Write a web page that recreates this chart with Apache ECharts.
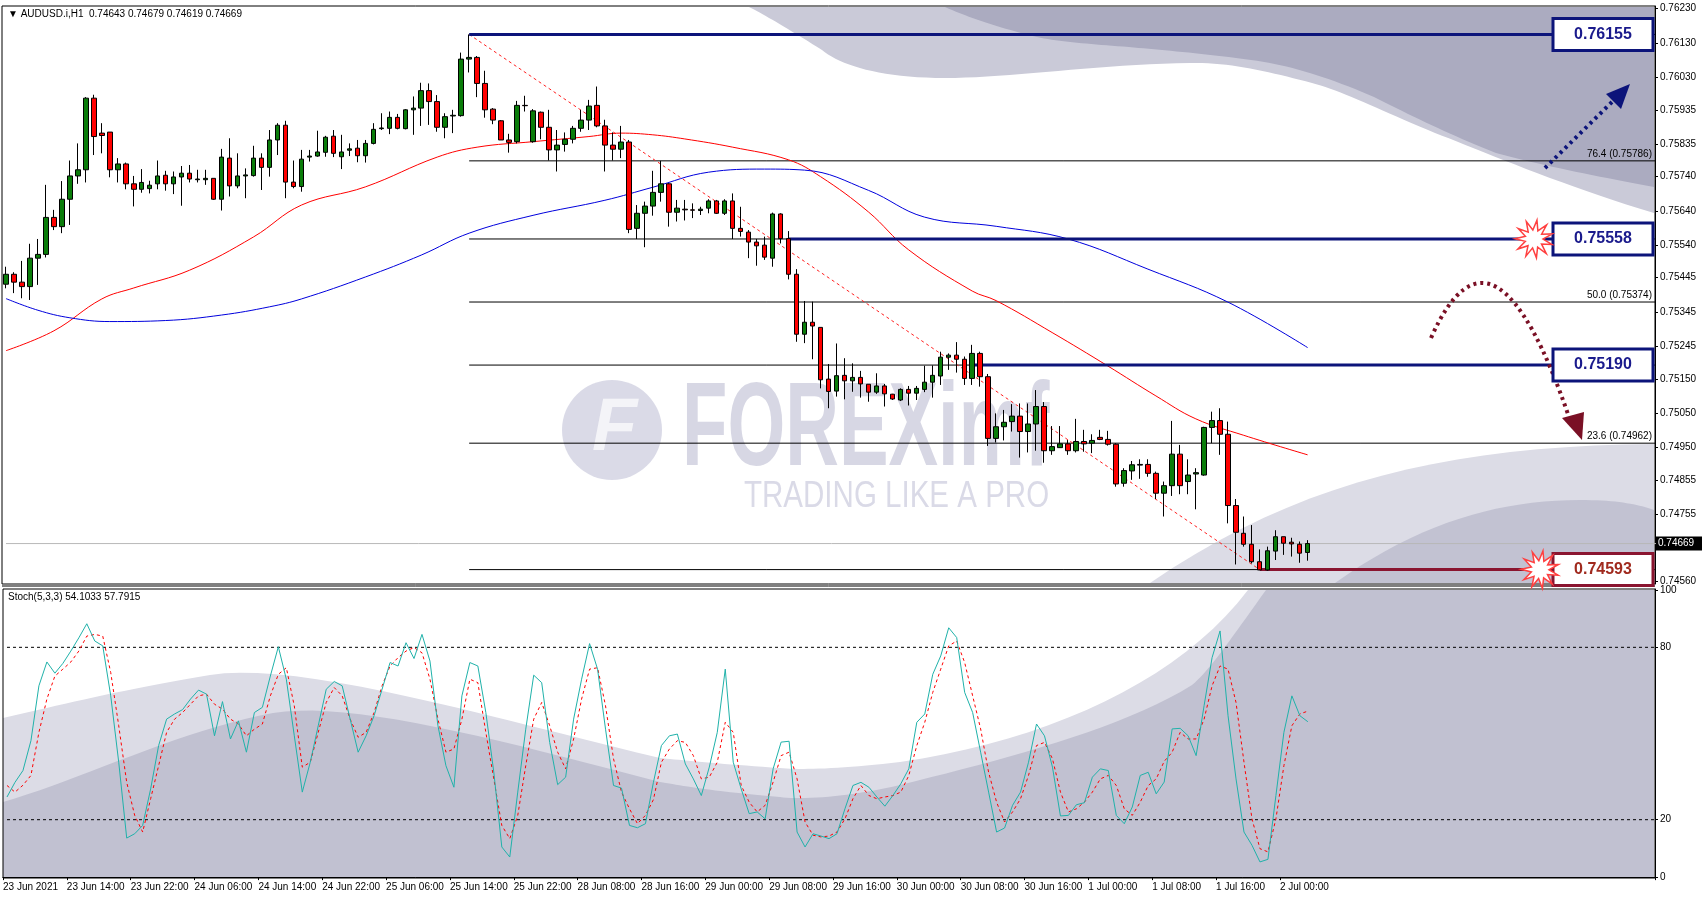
<!DOCTYPE html>
<html>
<head>
<meta charset="utf-8">
<script src="https://cdn.jsdelivr.net/npm/echarts@6/dist/echarts.min.js"></script>
<style>
  html, body { margin: 0; padding: 0; background: #fff; }
  #chart { width: 1702px; height: 900px; }
</style>
</head>
<body>
<div id="chart"></div>
<script>
// AUDUSD.i H1 candles, 23 Jun 2021 06:00 .. 2 Jul 2021 03:00
var opens = [0.75426,0.75455,0.75432,0.75419,0.75502,0.75513,0.75621,0.75594,0.75674,0.75742,
0.75760,0.75969,0.75867,0.75870,0.75760,0.75777,0.75719,0.75703,0.75705,0.75719,
0.75744,0.75719,0.75739,0.75750,0.75731,0.75731,0.75735,0.75674,0.75794,0.75713,
0.75742,0.75743,0.75794,0.75767,0.75847,0.75890,0.75724,0.75711,0.75797,0.75800,
0.75811,0.75858,0.75798,0.75817,0.75823,0.75801,0.75837,0.75880,0.75881,0.75913,
0.75880,0.75935,0.75940,0.75991,0.75959,0.75884,0.75917,0.75918,0.76083,0.76088,
0.76012,0.75937,0.75903,0.75847,0.75842,0.75948,0.75842,0.75928,0.75884,0.75818,
0.75834,0.75849,0.75881,0.75905,0.75948,0.75888,0.75832,0.75820,0.75841,0.75589,
0.75633,0.75654,0.75694,0.75719,0.75636,0.75645,0.75643,0.75641,0.75648,0.75669,
0.75633,0.75669,0.75589,0.75578,0.75549,0.75540,0.75502,0.75631,0.75559,0.75455,
0.75280,0.75315,0.75300,0.75149,0.75114,0.75160,0.75144,0.75154,0.75134,0.75111,
0.75129,0.75105,0.75088,0.75119,0.75108,0.75119,0.75140,0.75158,0.75213,0.75219,
0.75207,0.75151,0.75224,0.75156,0.74976,0.75010,0.75025,0.75041,0.74996,0.75018,
0.75069,0.74940,0.74949,0.74960,0.74940,0.74967,0.74962,0.74979,0.74973,0.74959,
0.74845,0.74881,0.74898,0.74900,0.74874,0.74816,0.74838,0.74930,0.74850,0.74872,
0.74869,0.75008,0.75028,0.74988,0.74780,0.74699,0.74667,0.74616,0.74592,0.74647,
0.74689,0.74673,0.74667,0.74643];
var closes = [0.75455,0.75432,0.75419,0.75502,0.75513,0.75621,0.75594,0.75674,0.75742,0.75760,
0.75969,0.75857,0.75860,0.75760,0.75777,0.75719,0.75703,0.75723,0.75715,0.75742,
0.75719,0.75739,0.75750,0.75733,0.75733,0.75735,0.75674,0.75797,0.75713,0.75742,
0.75745,0.75794,0.75767,0.75847,0.75890,0.75724,0.75711,0.75791,0.75800,0.75812,
0.75855,0.75808,0.75812,0.75821,0.75801,0.75837,0.75878,0.75882,0.75913,0.75881,
0.75935,0.75940,0.75991,0.75959,0.75884,0.75915,0.75919,0.76083,0.76088,0.76012,
0.75935,0.75905,0.75847,0.75840,0.75948,0.75947,0.75932,0.75884,0.75818,0.75832,
0.75849,0.75881,0.75905,0.75946,0.75888,0.75832,0.75820,0.75841,0.75586,0.75633,
0.75654,0.75694,0.75719,0.75636,0.75648,0.75643,0.75642,0.75645,0.75669,0.75633,
0.75669,0.75589,0.75580,0.75549,0.75538,0.75505,0.75631,0.75559,0.75455,0.75280,
0.75315,0.75304,0.75147,0.75113,0.75159,0.75144,0.75154,0.75135,0.75111,0.75129,
0.75106,0.75091,0.75119,0.75108,0.75122,0.75140,0.75160,0.75213,0.75219,0.75207,
0.75151,0.75224,0.75156,0.74976,0.75010,0.75023,0.75041,0.74996,0.75018,0.75069,
0.74940,0.74952,0.74960,0.74940,0.74967,0.74960,0.74970,0.74973,0.74959,0.74843,
0.74882,0.74899,0.74900,0.74874,0.74816,0.74838,0.74930,0.74838,0.74869,0.74876,
0.75008,0.75028,0.74988,0.74780,0.74702,0.74667,0.74616,0.74592,0.74648,0.74689,
0.74670,0.74668,0.74641,0.74669];
var lows = [0.75414,0.75400,0.75385,0.75380,0.75424,0.75504,0.75584,0.75575,0.75599,0.75719,
0.75723,0.75803,0.75808,0.75738,0.75723,0.75703,0.75653,0.75693,0.75691,0.75703,
0.75699,0.75689,0.75655,0.75723,0.75723,0.75716,0.75672,0.75641,0.75682,0.75706,
0.75677,0.75740,0.75701,0.75740,0.75803,0.75677,0.75706,0.75696,0.75784,0.75798,
0.75798,0.75797,0.75762,0.75800,0.75782,0.75781,0.75834,0.75876,0.75864,0.75878,
0.75878,0.75862,0.75888,0.75891,0.75871,0.75852,0.75867,0.75915,0.76044,0.75972,
0.75912,0.75893,0.75847,0.75810,0.75837,0.75930,0.75839,0.75849,0.75787,0.75755,
0.75813,0.75837,0.75871,0.75876,0.75884,0.75755,0.75787,0.75794,0.75575,0.75558,
0.75534,0.75626,0.75667,0.75594,0.75609,0.75612,0.75619,0.75628,0.75633,0.75631,
0.75628,0.75558,0.75565,0.75502,0.75480,0.75497,0.75477,0.75545,0.75440,0.75258,
0.75254,0.75207,0.75122,0.75064,0.75098,0.75090,0.75112,0.75095,0.75083,0.75106,
0.75069,0.75088,0.75085,0.75072,0.75088,0.75111,0.75095,0.75132,0.75176,0.75168,
0.75132,0.75132,0.75127,0.74954,0.74964,0.74970,0.74996,0.74920,0.74935,0.74940,
0.74905,0.74928,0.74949,0.74928,0.74935,0.74937,0.74933,0.74971,0.74955,0.74835,
0.74835,0.74855,0.74858,0.74864,0.74799,0.74748,0.74808,0.74813,0.74813,0.74769,
0.74867,0.74962,0.74928,0.74728,0.74608,0.74660,0.74611,0.74593,0.74590,0.74621,
0.74636,0.74631,0.74613,0.74619];
var highs = [0.75477,0.75461,0.75494,0.75544,0.75558,0.75716,0.75643,0.75727,0.75787,0.75837,
0.75972,0.75979,0.75896,0.75870,0.75794,0.75781,0.75742,0.75762,0.75728,0.75787,
0.75757,0.75755,0.75771,0.75774,0.75760,0.75760,0.75735,0.75821,0.75852,0.75808,
0.75764,0.75830,0.75808,0.75876,0.75896,0.75903,0.75787,0.75818,0.75818,0.75874,
0.75859,0.75876,0.75862,0.75837,0.75847,0.75847,0.75896,0.75925,0.75930,0.75923,
0.75937,0.75974,0.76014,0.76012,0.75978,0.75925,0.75935,0.76102,0.76155,0.76092,
0.76049,0.75940,0.75905,0.75865,0.75961,0.75976,0.75937,0.75930,0.75935,0.75876,
0.75869,0.75888,0.75935,0.75964,0.76003,0.75906,0.75869,0.75888,0.75847,0.75657,
0.75667,0.75757,0.75786,0.75721,0.75672,0.75672,0.75662,0.75652,0.75674,0.75672,
0.75674,0.75691,0.75652,0.75584,0.75558,0.75565,0.75635,0.75633,0.75581,0.75470,
0.75377,0.75375,0.75300,0.75193,0.75253,0.75210,0.75195,0.75173,0.75134,0.75166,
0.75135,0.75106,0.75122,0.75129,0.75129,0.75188,0.75189,0.75229,0.75224,0.75257,
0.75215,0.75249,0.75229,0.75164,0.75049,0.75059,0.75076,0.75078,0.75078,0.75117,
0.75082,0.75012,0.75012,0.74971,0.75033,0.75001,0.74988,0.75001,0.74998,0.74962,
0.74889,0.74910,0.74915,0.74915,0.74879,0.74850,0.75027,0.74957,0.74915,0.74889,
0.75010,0.75054,0.75064,0.75025,0.74799,0.74748,0.74723,0.74652,0.74660,0.74708,
0.74689,0.74686,0.74675,0.74679];

// moving averages at sample bars [bar, price]
var maRed = [[0,0.75232],[6,0.75290],[12,0.75383],[16,0.75415],[23,0.75467],[31,0.75564],[37,0.75657],
[45,0.75710],[54,0.75797],[59,0.75826],[66,0.75842],[73,0.75857],[77,0.75867],[81,0.75862],[85,0.75850],
[91,0.75826],[98,0.75789],[102,0.75740],[108,0.75637],[113,0.75527],[121,0.75406],[124,0.75378],
[131,0.75285],[138,0.75187],[144,0.75100],[149,0.75033],[155,0.74985],[163,0.74928]];
var maBlue = [[0,0.75384],[4,0.75350],[8,0.75328],[13,0.75317],[20,0.75320],[27,0.75336],[33,0.75360],
[37,0.75383],[45,0.75447],[52,0.75511],[58,0.75575],[66,0.75627],[75,0.75671],[81,0.75709],[88,0.75753],
[95,0.75762],[100,0.75759],[108,0.75700],[115,0.75622],[124,0.75595],[133,0.75558],[143,0.75470],
[153,0.75374],[163,0.75241]];

// Stochastic(5,3,3)
var stochK = [27.9,33.0,37.1,47.5,66.6,74.9,71.0,74.4,78.7,83.3,
88.2,82.2,80.5,63.1,40.0,13.6,15.1,18.0,30.7,45.8,
55.0,56.8,58.3,62.0,65.1,63.7,49.2,61.1,48.1,54.4,
43.5,57.3,59.1,70.0,80.2,68.9,49.2,29.6,40.0,52.7,
65.4,68.1,66.6,55.0,43.5,49.2,56.2,65.4,74.7,73.5,
81.6,76.1,84.5,75.2,52.7,38.8,31.3,63.1,74.7,73.5,
57.3,36.5,10.5,7.0,29.6,51.5,70.3,67.7,46.9,32.2,
34.8,55.0,68.9,81.3,72.4,51.5,31.9,31.0,18.0,17.2,
18.6,33.0,45.8,49.2,49.8,39.4,34.2,28.4,38.3,50.4,
72.4,40.0,30.7,22.1,22.7,20.3,37.7,47.0,47.3,15.7,
10.5,15.1,14.3,13.4,15.1,23.8,31.9,33.0,31.3,27.9,
24.7,28.4,32.5,37.7,53.9,56.8,70.6,77.0,86.8,83.4,
64.3,57.3,43.5,29.6,15.7,17.1,25.0,29.6,40.0,53.3,
49.2,38.3,21.3,21.5,25.2,25.9,34.8,37.7,37.1,21.5,
18.6,24.4,35.4,36.5,29.0,33.1,51.6,51.8,49.2,42.3,
59.7,76.4,85.7,56.2,34.2,15.7,11.1,5.3,6.2,28.4,
50.4,63.1,56.2,54.1];
var stochD = [31.9,29.6,32.0,35.4,50.4,62.0,70.0,72.4,74.9,78.7,
83.9,84.5,83.9,71.2,52.7,33.0,21.5,15.7,27.3,38.8,
50.4,55.0,57.3,60.2,63.1,63.7,60.2,58.5,55.0,53.3,
49.2,51.5,53.3,63.1,70.6,72.9,59.6,38.3,40.0,50.4,
60.8,66.0,63.1,55.0,48.7,50.4,57.3,66.6,73.5,76.4,
78.7,79.9,78.1,68.9,55.0,43.5,44.6,55.0,68.9,67.7,
50.4,34.2,18.0,13.4,21.5,38.8,55.0,60.8,52.7,43.5,
37.7,48.1,62.0,72.4,72.9,59.6,41.2,29.6,23.8,18.6,
21.5,27.0,40.0,44.6,47.5,46.9,42.3,34.2,34.8,40.0,
53.9,50.4,31.9,26.1,22.7,25.0,33.1,42.3,43.5,34.2,
19.2,14.6,14.0,14.3,15.7,20.3,27.3,31.9,28.4,27.3,
27.9,28.4,29.6,35.4,45.8,53.9,64.3,72.4,80.5,82.2,
74.7,63.1,51.6,36.5,26.1,19.2,22.7,27.3,35.4,45.8,
46.9,41.2,29.6,22.7,23.8,26.1,29.6,34.2,35.4,31.9,
23.8,21.5,26.1,31.9,34.2,40.3,43.5,50.4,48.1,48.1,
55.0,66.6,73.5,72.4,60.8,40.0,20.3,9.9,8.8,20.3,
38.8,52.7,56.8,57.8];

var timeLabels = ['23 Jun 2021','23 Jun 14:00','23 Jun 22:00','24 Jun 06:00','24 Jun 14:00','24 Jun 22:00',
'25 Jun 06:00','25 Jun 14:00','25 Jun 22:00','28 Jun 08:00','28 Jun 16:00','29 Jun 00:00','29 Jun 08:00',
'29 Jun 16:00','30 Jun 00:00','30 Jun 08:00','30 Jun 16:00','1 Jul 00:00','1 Jul 08:00','1 Jul 16:00','2 Jul 00:00'];
var priceTicks = [0.76230,0.76130,0.76030,0.75935,0.75835,0.75740,0.75640,0.75540,0.75445,0.75345,
0.75245,0.75150,0.75050,0.74950,0.74855,0.74755,0.74560];
var stochTicks = [0, 20, 80, 100];

// fibonacci / key levels
var fibHigh = 0.76155, fibLow = 0.74593;
var fibLevels = [0.76155, 0.75786, 0.75558, 0.75374, 0.75190, 0.74962, 0.74593];
var fibTexts = [['76.4 (0.75786)', 0.75786], ['50.0 (0.75374)', 0.75374], ['23.6 (0.74962)', 0.74962]];
var keyLevels = [[0.76155, 58, '0.76155'], [0.75558, 98, '0.75558'], [0.75190, 121, '0.75190']];
var supportLevel = [0.74593, 157, '0.74593'];
var lastPrice = 0.74669;

var SLOTS = 207;
var cats = [];
for (var i = 0; i < SLOTS; i++) cats.push(String(i));
var candles = opens.map(function (o, i) { return [o, closes[i], lows[i], highs[i]]; });
var FONT = 'Liberation Sans';

var dom = document.getElementById('chart');
var myChart = echarts.init(dom);

function seg(x0, x1, y) { return [[x0, y], [x1, y]]; }
function flatLine(data, color, width, type, xi, z) {
    return {
        type: 'line', xAxisIndex: xi || 0, yAxisIndex: xi || 0, data: data, symbol: 'none',
        silent: true, z: z || 3, lineStyle: { color: color, width: width, type: type || 'solid' }
    };
}

var series = [];
fibLevels.forEach(function (lv) { series.push(flatLine(seg(58, 206.5, lv), '#000', 1)); });
series.push(flatLine(seg(-0.5, 206.5, lastPrice), '#b8b8b8', 1));
keyLevels.forEach(function (k) { series.push(flatLine(seg(k[1], 193.7, k[0]), '#0c147a', 3, 'solid', 0, 4)); });
series.push(flatLine(seg(supportLevel[1], 193.7, supportLevel[0]), '#8a1530', 3, 'solid', 0, 4));
series.push(flatLine([[58, fibHigh], [157, fibLow]], '#ff2020', 1, [3, 3]));
series.push({ type: 'line', data: maRed, smooth: 0.4, symbol: 'none', silent: true, z: 3,
    lineStyle: { color: '#ff0000', width: 1 } });
series.push({ type: 'line', data: maBlue, smooth: 0.4, symbol: 'none', silent: true, z: 3,
    lineStyle: { color: '#0000dd', width: 1 } });
series.push({
    type: 'candlestick', data: candles, barWidth: 5, z: 5,
    itemStyle: { color: '#0a7d0a', color0: '#ff0000', borderColor: '#000', borderColor0: '#000', borderWidth: 1 }
});
series.push(flatLine(seg(-0.5, 206.5, 80), '#000', 1, [3, 3], 1));
series.push(flatLine(seg(-0.5, 206.5, 20), '#000', 1, [3, 3], 1));
series.push({ type: 'line', xAxisIndex: 1, yAxisIndex: 1, data: stochD, symbol: 'none', z: 4,
    lineStyle: { color: '#ff0000', width: 1, type: [3, 3] } });
series.push({ type: 'line', xAxisIndex: 1, yAxisIndex: 1, data: stochK, symbol: 'none', z: 5,
    lineStyle: { color: '#20b2aa', width: 1 } });

var option = {
    animation: false,
    backgroundColor: '#fff',
    grid: [
        { left: 2, top: 6, width: 1653, height: 578, show: true, borderColor: '#000', borderWidth: 1, backgroundColor: 'transparent' },
        { left: 2, top: 589, width: 1653, height: 289, show: true, borderColor: '#000', borderWidth: 1, backgroundColor: 'transparent' }
    ],
    xAxis: [
        { type: 'category', gridIndex: 0, data: cats, boundaryGap: true, axisLine: { show: false },
            axisTick: { show: false }, axisLabel: { show: false }, splitLine: { show: false } },
        { type: 'category', gridIndex: 1, data: cats, boundaryGap: true,
            axisLine: { show: true, lineStyle: { color: '#000' } },
            axisTick: { show: true, length: 3, lineStyle: { color: '#000' },
                interval: function (i) { return i % 8 === 0 && i <= 160; } },
            axisLabel: {
                fontFamily: FONT, fontSize: 10, color: '#000', align: 'left', margin: 4, padding: [0, 0, 0, -4],
                interval: function (i) { return i % 8 === 0 && i <= 160; },
                formatter: function (v, i) { return timeLabels[i / 8] || ''; }
            },
            splitLine: { show: false } }
    ],
    yAxis: [
        { type: 'value', gridIndex: 0, position: 'right', min: 0.74551, max: 0.76238, scale: true,
            axisLine: { show: true, lineStyle: { color: '#000' } },
            axisTick: { show: true, length: 3, customValues: priceTicks, lineStyle: { color: '#000' } },
            axisLabel: { customValues: priceTicks, fontFamily: FONT, fontSize: 10, color: '#000', margin: 5,
                formatter: function (v) { return v.toFixed(5); } },
            splitLine: { show: false } },
        { type: 'value', gridIndex: 1, position: 'right', min: -0.3, max: 100.3,
            axisLine: { show: true, lineStyle: { color: '#000' } },
            axisTick: { show: true, length: 3, customValues: stochTicks, lineStyle: { color: '#000' } },
            axisLabel: { customValues: stochTicks, fontFamily: FONT, fontSize: 10, color: '#000', margin: 5,
                formatter: function (v) { return String(Math.round(v)); } },
            splitLine: { show: false } }
    ],
    series: series
};
myChart.setOption(option);

// ---- decorations and annotations ----
function px(idx, price) { return myChart.convertToPixel({ gridIndex: 0 }, [idx, price]); }

// turns a simple "M x y L x y C ..." outline into polygon points
function outline(d) {
    var t = d.match(/[MLCZ]|-?\d+(\.\d+)?/g), pts = [], k = 0, cur = [0, 0];
    while (k < t.length) {
        var c = t[k++];
        if (c === 'M' || c === 'L') { cur = [+t[k], +t[k + 1]]; k += 2; pts.push(cur); }
        else if (c === 'C') {
            var p1 = [+t[k], +t[k + 1]], p2 = [+t[k + 2], +t[k + 3]], p3 = [+t[k + 4], +t[k + 5]];
            k += 6;
            for (var s = 1; s <= 20; s++) {
                var u = s / 20, v = 1 - u;
                pts.push([v * v * v * cur[0] + 3 * v * v * u * p1[0] + 3 * v * u * u * p2[0] + u * u * u * p3[0],
                    v * v * v * cur[1] + 3 * v * v * u * p1[1] + 3 * v * u * u * p2[1] + u * u * u * p3[1]]);
            }
            cur = p3;
        }
    }
    return pts;
}

function starPoints(cx, cy, r1, r2, n) {
    var pts = [];
    for (var k = 0; k < n * 2; k++) {
        var r = k % 2 ? r2 : r1;
        var a = Math.PI * k / n + 0.3;
        pts.push([cx + r * Math.cos(a), cy + r * Math.sin(a)]);
    }
    return pts;
}

var g = [];
function shape(d, fill, z) { g.push({ type: 'polygon', z: z, silent: true, shape: { points: outline(d) }, style: { fill: fill } }); }

// background swooshes, main panel
shape('M749 7 L1654 7 L1654 213 C1560 185 1480 150 1435 133 C1380 110 1340 90 1312 83 C1270 72 1230 62 1190 63 C1100 64 1010 78 945 78 C880 78 840 65 822 50 C790 30 765 15 749 7 Z', '#cacad8', -1);
shape('M945 7 L1654 7 L1654 187 C1590 175 1540 165 1496 153 C1450 135 1410 115 1374 97 C1330 78 1290 65 1251 60 C1200 53 1160 50 1129 47 C1090 44 1060 42 1037 37 C1000 28 970 18 945 7 Z', '#ababc0', -1);
shape('M1150 583 C1300 480 1450 446 1654 444 L1654 583 Z', '#dcdce6', -1);
shape('M1335 583 C1420 522 1500 500 1580 500 C1620 500 1640 505 1654 510 L1654 583 Z', '#c2c2d2', -1);
// stochastic panel
g.push({ type: 'rect', z: -2, silent: true, shape: { x: 3, y: 590, width: 1651, height: 287 }, style: { fill: '#c1c1d1' } });
shape('M3 590 L1266 590 C1230 640 1210 670 1192 685 C1120 730 1000 760 900 785 C850 797 800 800 780 797 C700 790 680 785 660 782 C500 740 350 700 273 713 C180 730 80 780 3 802 Z', '#dcdce6', -1);
shape('M3 590 L1248 590 C1180 680 1050 740 900 762 C840 769 800 770 780 768 C720 764 680 760 660 758 C500 720 300 660 210 675 C120 690 60 705 3 718 Z', '#ffffff', -1);

// watermark
g.push({ type: 'circle', z: 1, silent: true, shape: { cx: 612, cy: 430, r: 50 }, style: { fill: 'rgba(150,150,185,0.35)' } });
g.push({ type: 'text', z: 1, silent: true, x: 592, y: 430, style: { text: 'F', fontFamily: FONT, fontWeight: 'bold', fontStyle: 'italic',
    fontSize: 74, fill: 'rgba(255,255,255,0.7)', verticalAlign: 'middle' } });
g.push({ type: 'text', z: 1, silent: true, x: 682, y: 432, scaleX: 0.63, style: { text: 'FOREXimf', fontFamily: FONT, fontWeight: 'bold',
    fontSize: 118, fill: 'rgba(150,150,185,0.38)', verticalAlign: 'middle' } });
g.push({ type: 'text', z: 1, silent: true, x: 744, y: 497, scaleX: 0.82, style: { text: 'TRADING LIKE A PRO', fontFamily: FONT,
    fontSize: 36, fill: 'rgba(150,150,185,0.35)', verticalAlign: 'middle' } });

// header texts
g.push({ type: 'text', z: 50, x: 8, y: 14, style: { text: '▼ AUDUSD.i,H1  0.74643 0.74679 0.74619 0.74669', fontFamily: FONT,
    fontSize: 10, fill: '#000', verticalAlign: 'middle' } });
g.push({ type: 'text', z: 50, x: 8, y: 597, style: { text: 'Stoch(5,3,3) 54.1033 57.7915', fontFamily: FONT,
    fontSize: 10, fill: '#000', verticalAlign: 'middle' } });

// fib labels
fibTexts.forEach(function (f) {
    var p = px(206, f[1]);
    g.push({ type: 'text', z: 50, x: 1652, y: p[1] - 2, style: { text: f[0], fontFamily: FONT, fontSize: 10, fill: '#000',
        align: 'right', verticalAlign: 'bottom' } });
});

// price boxes
function box(level, text, border, color) {
    var p = px(200, level);
    g.push({ type: 'rect', z: 60, shape: { x: 1553, y: p[1] - 16, width: 100, height: 32 },
        style: { fill: '#fff', stroke: border, lineWidth: 3 } });
    g.push({ type: 'text', z: 61, x: 1603, y: p[1], style: { text: text, fontFamily: FONT, fontWeight: 'bold', fontSize: 16,
        fill: color, align: 'center', verticalAlign: 'middle' } });
}
keyLevels.forEach(function (k) { box(k[0], k[2], '#0c147a', '#1a1a8c'); });
box(supportLevel[0], supportLevel[2], '#8a1530', '#a02a1e');

// starbursts
[[0.75558, 1534], [0.74593, 1540]].forEach(function (s) {
    var p = px(200, s[0]);
    g.push({ type: 'polygon', z: 62, shape: { points: starPoints(s[1], p[1], 19, 9, 11) },
        style: { fill: '#fff', stroke: '#ff4040', lineWidth: 1.5 } });
});

// current price tag
var lp = px(206, lastPrice);
g.push({ type: 'rect', z: 60, shape: { x: 1656, y: lp[1] - 7, width: 46, height: 14 }, style: { fill: '#000' } });
g.push({ type: 'text', z: 61, x: 1658, y: lp[1], style: { text: lastPrice.toFixed(5), fontFamily: FONT, fontSize: 10,
    fill: '#fff', verticalAlign: 'middle' } });

// blue dotted arrow (up)
g.push({ type: 'line', z: 55, shape: { x1: 1545, y1: 168, x2: 1614, y2: 100 },
    style: { stroke: '#0c147a', lineWidth: 4, lineDash: [3, 4] } });
g.push({ type: 'polygon', z: 55, shape: { points: [[1630, 84], [1606, 94], [1621, 109]] }, style: { fill: '#0c147a' } });
// dark red dotted arc (down)
g.push({ type: 'bezierCurve', z: 55, shape: { x1: 1431, y1: 338, cpx1: 1494, cpy1: 196, x2: 1570, y2: 420 },
    style: { stroke: '#7a1025', lineWidth: 4, lineDash: [3, 4], fill: null } });
g.push({ type: 'polygon', z: 55, shape: { points: [[1582, 440], [1562, 418], [1584, 412]] }, style: { fill: '#7a1025' } });

// panel separator
g.push({ type: 'line', z: 40, shape: { x1: 2, y1: 586, x2: 1655, y2: 586 }, style: { stroke: '#000', lineWidth: 1 } });

myChart.setOption({ graphic: g });
</script>
</body>
</html>
